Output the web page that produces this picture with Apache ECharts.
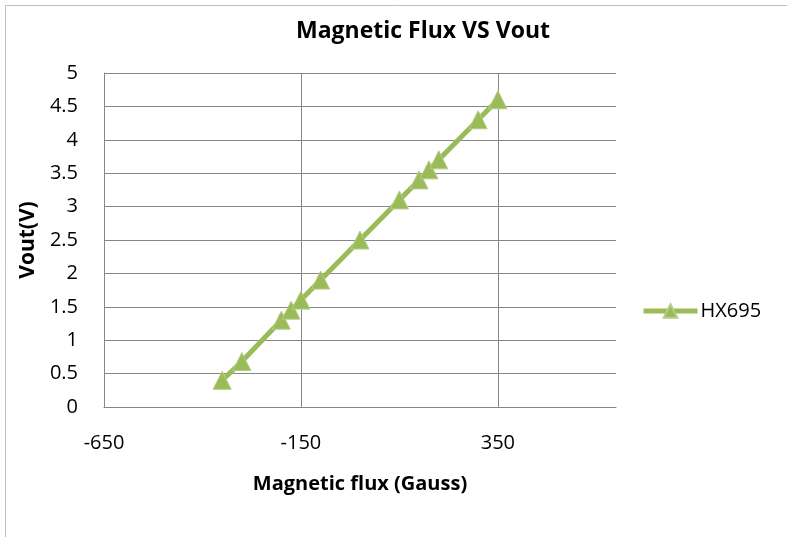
<!DOCTYPE html>
<html><head><meta charset="utf-8">
<script src="https://cdn.jsdelivr.net/npm/echarts@6/dist/echarts.min.js"></script>
<style>html,body{margin:0;padding:0;background:#fff}#c{width:787px;height:537px}</style>
</head><body><div id="c"></div>
<script>
const fluxGauss = [-350, -300, -200, -175, -150, -100, 0, 100, 150, 175, 200, 300, 350];
const voutV = [0.4, 0.68, 1.3, 1.45, 1.6, 1.9, 2.5, 3.1, 3.4, 3.55, 3.7, 4.3, 4.6];
const seriesName = 'HX695';
const titleText = 'Magnetic Flux VS Vout';
const xTitle = 'Magnetic flux (Gauss)';
const yTitle = 'Vout(V)';

const font = 'Open Sans, Liberation Sans, sans-serif';
const chart = echarts.init(document.getElementById('c'));
chart.setOption({
  animation: false,
  graphic: [{type:'rect', shape:{x:5.5,y:5.5,width:800,height:600}, style:{fill:'none', stroke:'#bfbfbf', lineWidth:1}, z:-1}],
  title: {text: titleText, left: 418, top: 15, textAlign: 'center',
    textStyle: {fontFamily: font, fontSize: 23, fontWeight: 'bold', color: '#000'}},
  legend: {data:[seriesName], left: 636, top: 296, itemWidth: 54, itemHeight: 17, itemGap: 0,
    lineStyle: {width: 5},
    textStyle: {fontFamily: font, fontSize: 20, color: '#000', padding:[0,0,0,-2]}},
  grid: {left: 104, right: 171, top: 73, bottom: 130},
  xAxis: {type: 'value', min: -650, max: 650, interval: 500,
    name: xTitle, nameLocation: 'middle', nameGap: 67,
    nameTextStyle: {fontFamily: font, fontSize: 20, fontWeight: 'bold', color: '#000'},
    axisLine: {show: true, onZero: false, lineStyle: {color: '#868686'}},
    axisTick: {show: false},
    axisLabel: {margin: 26, fontFamily: font, fontSize: 20, color: '#000', showMaxLabel: false},
    splitLine: {show: true, showMinLine: false, showMaxLine: false, lineStyle: {color: '#868686'}}},
  yAxis: {type: 'value', min: 0, max: 5, interval: 0.5,
    name: yTitle, nameLocation: 'middle', nameGap: 59,
    nameTextStyle: {fontFamily: font, fontSize: 21, fontWeight: 'bold', color: '#000'},
    axisLine: {show: true, onZero: false, lineStyle: {color: '#868686'}},
    axisTick: {show: false},
    axisLabel: {margin: 26, fontFamily: font, fontSize: 20, color: '#000'},
    splitLine: {show: true, showMinLine: false, lineStyle: {color: '#868686'}}},
  series: [{
    name: seriesName, type: 'line',
    data: fluxGauss.map((x, i) => [x, voutV[i]]),
    symbol: 'triangle', symbolSize: 18,
    lineStyle: {color: '#9bbb59', width: 5},
    itemStyle: {color: '#9bbb59', borderColor: '#b5cc87', borderWidth: 1}
  }]
});
</script></body></html>
